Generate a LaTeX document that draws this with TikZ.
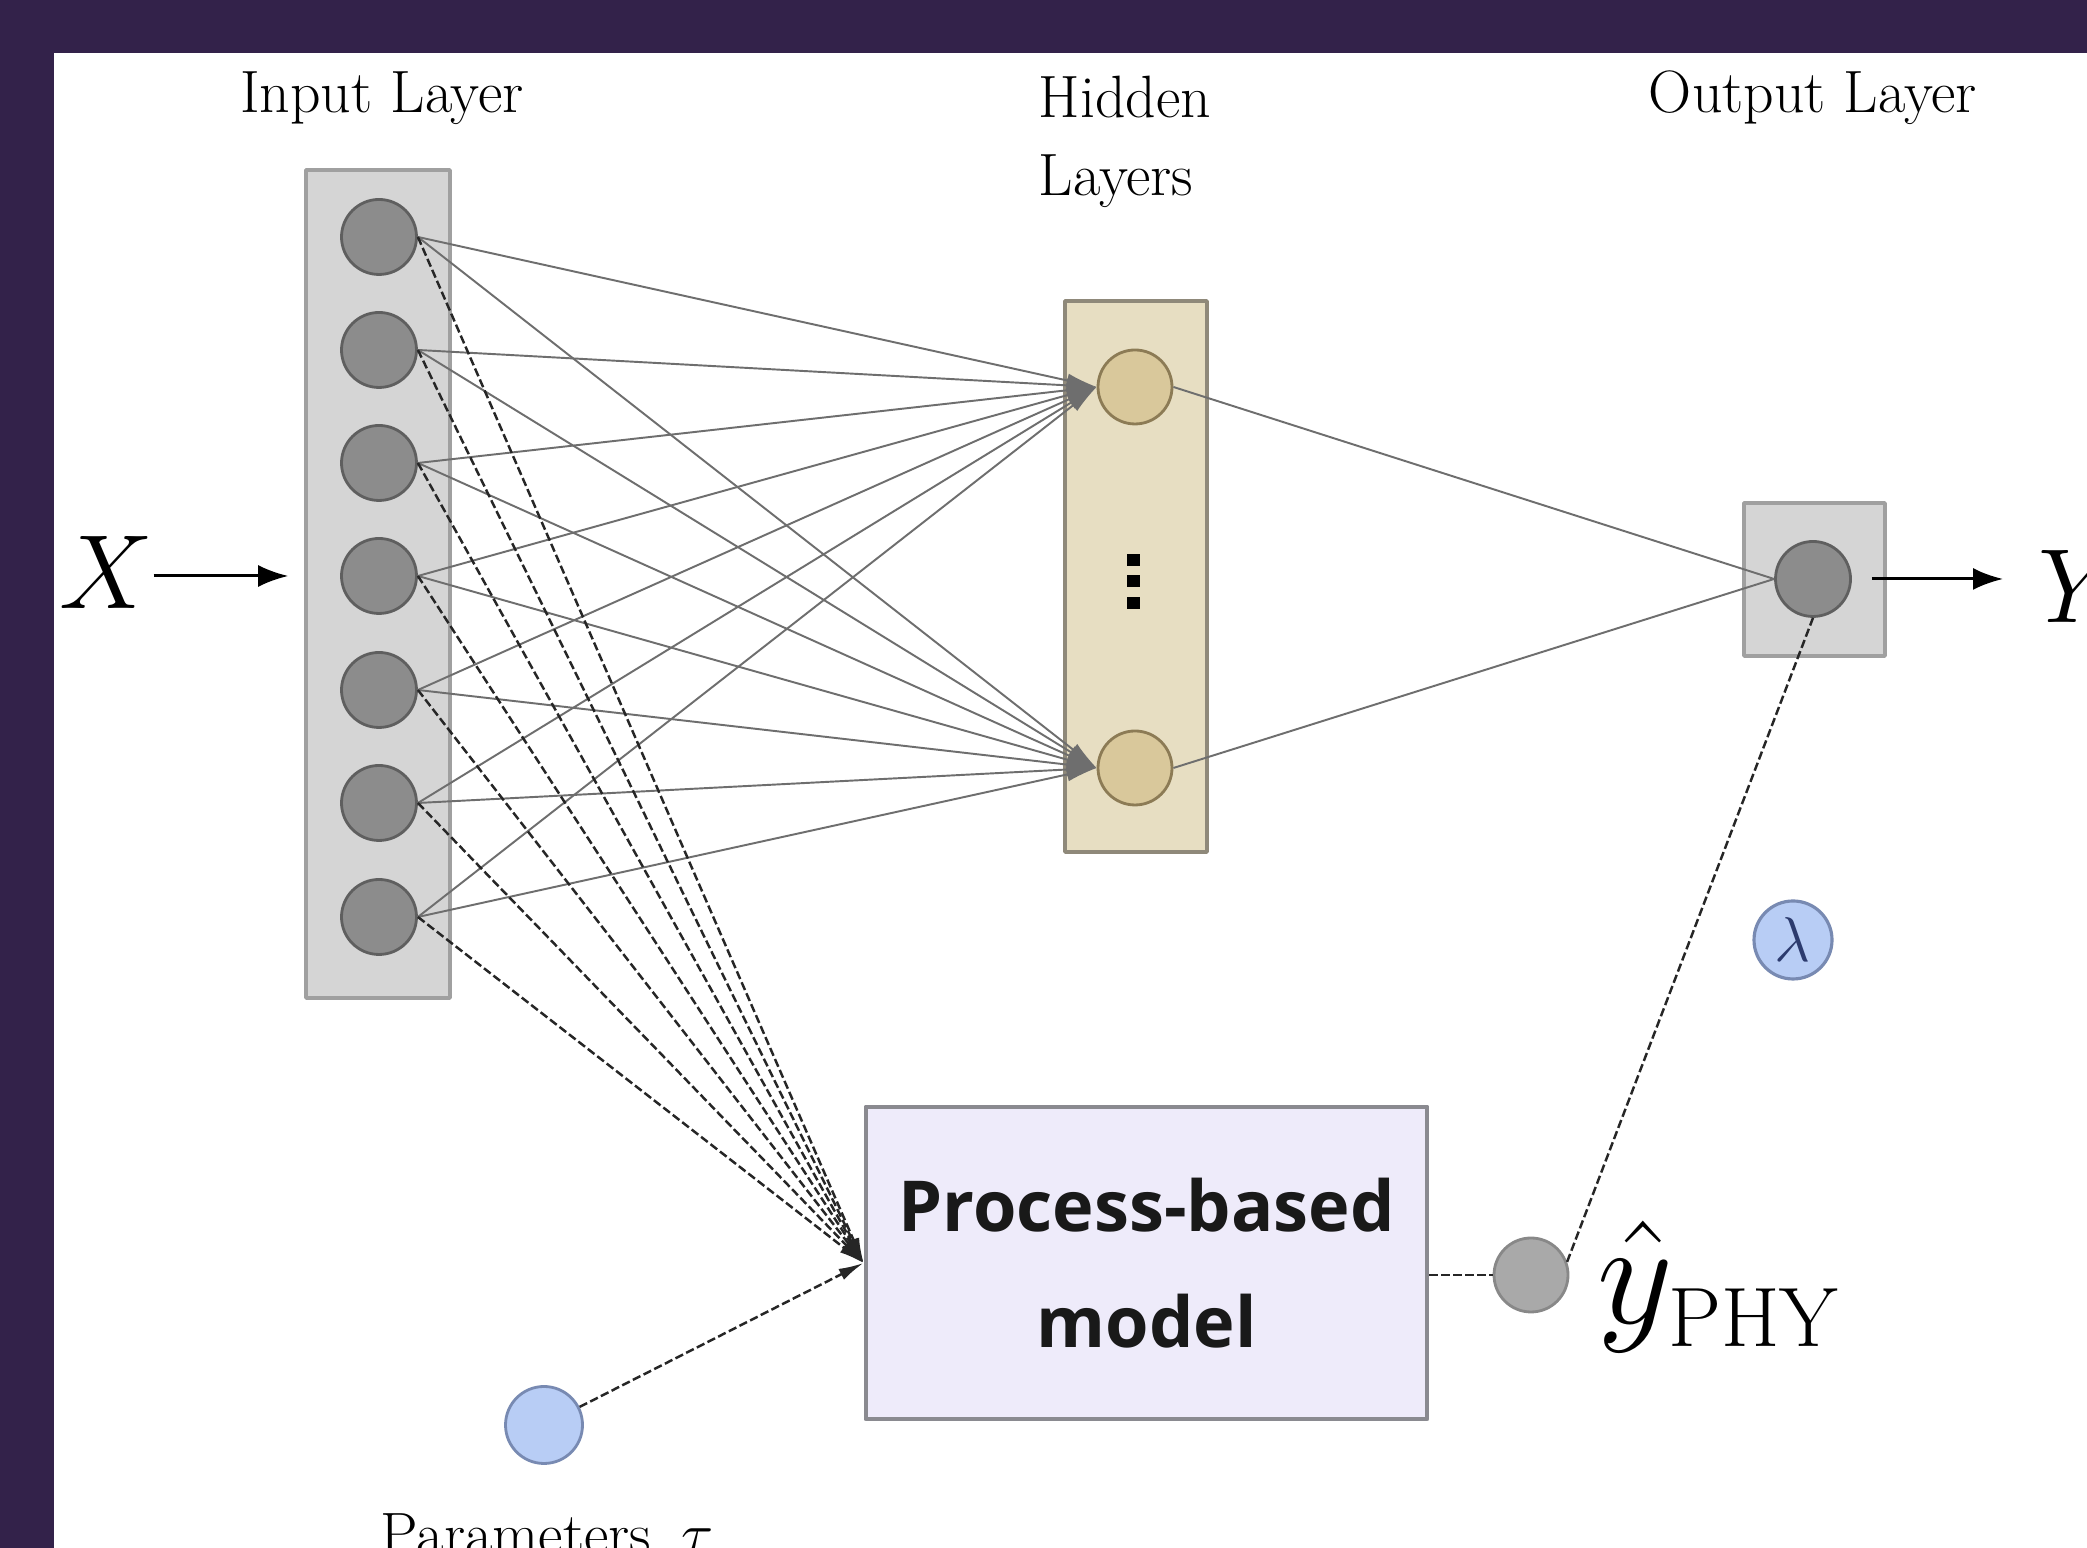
\RequirePackage{fix-cm}
\documentclass[tikz,border=0pt]{standalone}
\usepackage{fontspec}
\usepackage{tikz}
\usetikzlibrary{arrows.meta}

\newfontfamily\procfont{Open Sans}

\definecolor{framepurple}{RGB}{51,34,74}
\definecolor{boxgray}{RGB}{213,213,213}
\definecolor{boxedge}{RGB}{160,160,160}
\definecolor{nodegray}{RGB}{140,140,140}
\definecolor{nodeedge}{RGB}{95,95,95}
\definecolor{hidboxfill}{RGB}{231,222,194}
\definecolor{hidboxedge}{RGB}{143,137,122}
\definecolor{hidfill}{RGB}{217,200,155}
\definecolor{hidedge}{RGB}{140,123,85}
\definecolor{procfill}{RGB}{238,235,250}
\definecolor{procedge}{RGB}{138,138,144}
\definecolor{parblue}{RGB}{184,205,245}
\definecolor{paredge}{RGB}{120,138,178}
\definecolor{phygray}{RGB}{169,169,169}
\definecolor{phyedge}{RGB}{136,136,136}
\definecolor{wiregray}{RGB}{110,110,110}
\definecolor{lamtext}{RGB}{44,59,110}

\begin{document}
\begin{tikzpicture}[
    >=Latex,
    line join=round,
    font=\fontsize{17}{22.4}\selectfont,
    layerbox/.style={draw=boxedge, fill=boxgray, line width=1pt, inner sep=0pt},
    neuron/.style={circle, draw=nodeedge, fill=nodegray, line width=0.8pt,
                   minimum size=7.5mm, inner sep=0pt},
    hidneuron/.style={neuron, draw=hidedge, fill=hidfill, minimum size=7.4mm},
    wire/.style={draw=wiregray, line width=0.55pt},
    physline/.style={draw=black!85, line width=0.7pt, dash pattern=on 2.4pt off 1pt},
    flowarrow/.style={-{Latex[length=3mm,width=2.2mm]}, line width=0.85pt},
    mathlab/.style={inner sep=0pt, font=\fontsize{30}{36}\selectfont},
    layertitle/.style={inner sep=0pt, text=black}
]

% Canvas and frame
\useasboundingbox (0,0) rectangle (20.87,15.48);
\fill[framepurple] (0,0) rectangle (20.87,15.48);
\fill[white] (0.54,0) rectangle (20.87,14.95);

% Layer boxes
\node[layerbox, minimum width=14.4mm, minimum height=82.8mm] (inbox) at (3.78,9.64) {};
\node[layerbox, draw=hidboxedge, fill=hidboxfill, minimum width=14.2mm,
      minimum height=55.1mm] (hidbox) at (11.36,9.715) {};
\node[layerbox, minimum width=14.1mm, minimum height=15.3mm] (outbox) at (18.145,9.685) {};

% Process-based model
\node[draw=procedge, fill=procfill, line width=1.4pt, minimum width=56.1mm,
      minimum height=31.2mm, align=center, text=black!90,
      font=\procfont\bfseries\fontsize{20}{33}\selectfont] (proc) at (11.465,2.85)
      {Process-based\\model};

% Layer titles
\node[layertitle, anchor=base] (intitle) at (3.82,14.35) {Input Layer};
\node[layertitle, anchor=north west, align=left] (hidtitle) at (10.38,14.73) {Hidden\\Layers};
\node[layertitle, anchor=base] (outtitle) at (18.13,14.35) {Output Layer};

% Input neurons
\node[neuron] (in1) at (3.79,13.11) {};
\node[neuron] (in2) at (3.79,11.98) {};
\node[neuron] (in3) at (3.79,10.85) {};
\node[neuron] (in4) at (3.79,9.72) {};
\node[neuron] (in5) at (3.79,8.58) {};
\node[neuron] (in6) at (3.79,7.45) {};
\node[neuron] (in7) at (3.79,6.31) {};

% Hidden neurons
\node[hidneuron] (h1) at (11.35,11.61) {};
\node[hidneuron] (h2) at (11.35,7.80) {};
\foreach \dy in {0.21,0,-0.22}
    \fill (11.27,9.61+\dy) rectangle ++(0.13,0.12);

% Output neuron
\node[neuron] (out) at (18.13,9.69) {};

% Physics branch
\node[circle, draw=phyedge, fill=phygray, line width=0.8pt, minimum size=7.4mm,
      inner sep=0pt] (phy) at (15.31,2.73) {};
\node[circle, draw=paredge, fill=parblue, line width=0.8pt, minimum size=7.7mm,
      inner sep=0pt] (tau) at (5.44,1.23) {};
\node[circle, draw=paredge, fill=parblue, line width=0.9pt, minimum size=7.8mm,
      inner sep=0pt, text=lamtext, font=\fontsize{18}{20}\selectfont] (lam) at (17.93,6.08) {$\lambda$};

% Labels
\node[mathlab] (xlab) at (1.06,9.76) {$X$};
\node[mathlab, anchor=west] (ylab) at (20.38,9.62) {$Y$};
\node[mathlab, anchor=base west, font=\fontsize{42}{48}\selectfont] (phylab) at (15.97,2.24)
      {$\hat{y}_{\mbox{\fontsize{24}{26}\selectfont PHY}}$};
\node[layertitle, anchor=base] (taulab) at (5.47,-0.07) {Parameters\enspace$\tau$};

% Input -> hidden
\foreach \i in {1,...,7}{
    \draw[wire,-{Latex[length=3mm,width=1.4mm]}] (in\i.east) -- (h1.west);
    \draw[wire,-{Latex[length=3mm,width=1.4mm]}] (in\i.east) -- (h2.west);
}

% Hidden -> output
\draw[wire] (h1.east) -- (out.west);
\draw[wire] (h2.east) -- (out.west);

% Input -> process-based model
\foreach \i in {1,...,7}
    \draw[physline,-{Latex[length=2.5mm,width=1.2mm]}] (in\i.east) -- (proc.west);
\draw[physline,-{Latex[length=2.5mm,width=1.2mm]}] (tau) -- (proc.west);

% Model output
\draw[physline] (proc.east |- phy) -- (phy.west);
\draw[physline] (phy.20) -- (out.south);

% Data flow
\draw[flowarrow, shorten >=1.6mm] (xlab.east |- in4) -- (inbox.west |- in4);
\draw[flowarrow, shorten <=2mm, shorten >=3.5mm] (out.east) -- (out.east -| ylab.west);

\end{tikzpicture}
\end{document}
